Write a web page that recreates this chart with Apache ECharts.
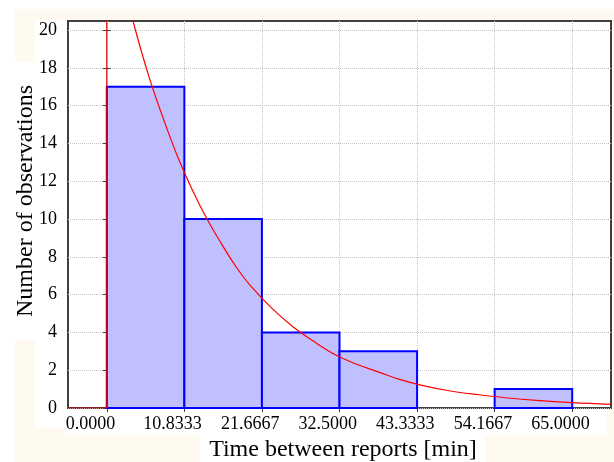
<!DOCTYPE html>
<html>
<head>
<meta charset="utf-8">
<script src="https://cdn.jsdelivr.net/npm/echarts@6/dist/echarts.min.js"></script>
<style>
  html, body { margin: 0; padding: 0; background: #fff; }
  #chart { width: 614px; height: 462px; }
</style>
</head>
<body>
<div id="chart"></div>
<script>
// histogram bins (edges) and counts
const binEdges = [0, 10.8333, 21.6667, 32.5, 43.3333, 54.1667, 65];
const counts = [17, 10, 4, 3, 0, 1];
const yTicks = [0, 2, 4, 6, 8, 10, 12, 14, 16, 18, 20];

// fitted curve
const curveX = [0, 2, 4, 6, 8, 10, 12, 14, 16, 18, 20, 23, 26, 29, 32, 35, 38, 41, 44, 48, 52, 56, 60, 65, 70.4167];
const curveY = [26.5, 23.0, 20.0, 17.4, 15.2, 13.2, 11.5, 10.0, 8.7, 7.5, 6.5, 5.3, 4.3, 3.5, 2.8, 2.3, 1.9, 1.5, 1.2, 0.9, 0.7, 0.53, 0.40, 0.28, 0.19];
// zero part left of the origin plus the jump at 0
const stepX = [-5.4167, 0, 0];
const stepY = [0, 0, 26.5];

const FONT = '"Liberation Serif", "Times New Roman", serif';
const X_MIN = -5.4167, X_MAX = 70.4167;

const chart = echarts.init(document.getElementById('chart'));

const barData = counts.map((c, i) => [binEdges[i], binEdges[i + 1], c]);

chart.setOption({
  animation: false,
  backgroundColor: '#fff',
  graphic: [
    { type: 'rect', z: -100, shape: { x: 15, y: 9, width: 599, height: 453 }, style: { fill: '#fffaf0' } },
    { type: 'rect', z: -99, shape: { x: 15, y: 62, width: 20, height: 278 }, style: { fill: '#fff' } },
    { type: 'rect', z: -99, shape: { x: 35, y: 20, width: 33, height: 408 }, style: { fill: '#fff' } },
    { type: 'rect', z: -99, shape: { x: 66, y: 406, width: 541, height: 29 }, style: { fill: '#fff' } },
    { type: 'rect', z: -99, shape: { x: 200, y: 435, width: 285, height: 27 }, style: { fill: '#fff' } },
    {
      type: 'text', x: 26, y: 201, rotation: Math.PI / 2,
      style: { text: 'Number of observations', font: '24px ' + FONT, fill: '#000', align: 'center', verticalAlign: 'middle' }
    },
    {
      type: 'text', x: 343, y: 450,
      style: { text: 'Time between reports [min]', font: '24px ' + FONT, fill: '#000', align: 'center', verticalAlign: 'middle' }
    }
  ],
  grid: {
    left: 68, right: 3, top: 21, bottom: 54,
    show: true, backgroundColor: '#fff', borderColor: '#404040', borderWidth: 2
  },
  xAxis: [
    {
      type: 'value', position: 'bottom', min: X_MIN, max: X_MAX,
      axisLine: { show: false },
      axisTick: { inside: true, length: 4, customValues: binEdges, lineStyle: { color: '#404040' } },
      axisLabel: {
        customValues: binEdges, margin: 7, color: '#000', fontFamily: FONT, fontSize: 18,
        formatter: v => '{a|' + v.toFixed(4) + '}',
        rich: { a: { width: 82, align: 'left', fontFamily: FONT, fontSize: 18, color: '#000' } }
      },
      splitLine: { show: true, lineStyle: { color: '#c4c4c4', type: 'dotted', width: 1 } }
    },
    {
      type: 'value', position: 'top', min: X_MIN, max: X_MAX,
      axisLine: { show: false },
      axisTick: { inside: true, length: 4, customValues: binEdges, lineStyle: { color: '#404040' } },
      axisLabel: { show: false },
      splitLine: { show: false }
    }
  ],
  yAxis: [
    {
      type: 'value', position: 'left', min: 0, max: 20.476,
      axisLine: { show: false },
      axisTick: { inside: true, length: 4, customValues: yTicks, lineStyle: { color: '#404040' } },
      axisLabel: { customValues: yTicks, margin: 11, color: '#000', fontFamily: FONT, fontSize: 18, padding: [6, 0, 0, 0] },
      splitLine: { show: true, lineStyle: { color: '#c4c4c4', type: 'dotted', width: 1 } }
    },
    {
      type: 'value', position: 'right', min: 0, max: 20.476,
      axisLine: { show: false },
      axisTick: { inside: true, length: 4, customValues: yTicks, lineStyle: { color: '#404040' } },
      axisLabel: { show: false },
      splitLine: { show: false }
    }
  ],
  series: [
    {
      type: 'custom',
      data: barData,
      z: 2,
      renderItem: (params, api) => {
        if (api.value(2) <= 0) return null;
        const p0 = api.coord([api.value(0), 0]);
        const p1 = api.coord([api.value(1), api.value(2)]);
        return {
          type: 'rect',
          shape: { x: p0[0], y: p1[1], width: p1[0] - p0[0], height: p0[1] - p1[1] },
          style: { fill: '#c0c0ff', stroke: '#0000ff', lineWidth: 2 }
        };
      }
    },
    {
      type: 'line', z: 3,
      data: stepX.map((x, i) => [x, stepY[i]]),
      symbol: 'none', clip: true,
      lineStyle: { color: '#e00000', width: 1.2 }
    },
    {
      type: 'line', z: 3,
      data: curveX.map((x, i) => [x, curveY[i]]),
      symbol: 'none', clip: true, smooth: 0.4,
      lineStyle: { color: '#ff0000', width: 1.2 }
    }
  ]
});
</script>
</body>
</html>
